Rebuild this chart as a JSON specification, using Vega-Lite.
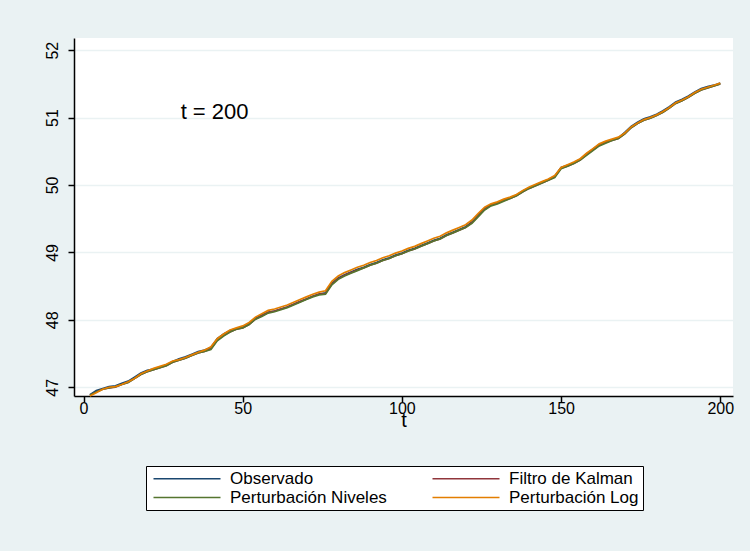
{
  "$schema": "https://vega.github.io/schema/vega-lite/v6.json",
  "width": 659,
  "height": 358,
  "autosize": {"type": "none"},
  "padding": {"left": 74, "top": 38, "right": 17, "bottom": 155},
  "background": "#EAF2F3",
  "config": {
    "view": {"fill": "white", "stroke": null},
    "font": "Liberation Sans"
  },
  "layer": [
    {
      "data": {
        "values": [
          {"t": 2, "o": 46.89, "k": 46.88, "n": 46.88, "l": 46.87},
          {"t": 4, "o": 46.95, "k": 46.93, "n": 46.93, "l": 46.92},
          {"t": 6, "o": 46.98, "k": 46.97, "n": 46.97, "l": 46.97},
          {"t": 8, "o": 47.01, "k": 46.99, "n": 46.99, "l": 47.00},
          {"t": 10, "o": 47.02, "k": 47.00, "n": 47.01, "l": 47.01},
          {"t": 12, "o": 47.06, "k": 47.04, "n": 47.04, "l": 47.04},
          {"t": 14, "o": 47.09, "k": 47.07, "n": 47.07, "l": 47.08},
          {"t": 16, "o": 47.15, "k": 47.13, "n": 47.13, "l": 47.13},
          {"t": 18, "o": 47.21, "k": 47.19, "n": 47.19, "l": 47.20},
          {"t": 20, "o": 47.25, "k": 47.23, "n": 47.23, "l": 47.24},
          {"t": 22, "o": 47.27, "k": 47.26, "n": 47.26, "l": 47.28},
          {"t": 24, "o": 47.30, "k": 47.29, "n": 47.29, "l": 47.31},
          {"t": 26, "o": 47.33, "k": 47.32, "n": 47.32, "l": 47.34},
          {"t": 28, "o": 47.38, "k": 47.37, "n": 47.37, "l": 47.39},
          {"t": 30, "o": 47.42, "k": 47.40, "n": 47.40, "l": 47.41},
          {"t": 32, "o": 47.45, "k": 47.43, "n": 47.43, "l": 47.44},
          {"t": 34, "o": 47.49, "k": 47.47, "n": 47.47, "l": 47.48},
          {"t": 36, "o": 47.53, "k": 47.51, "n": 47.51, "l": 47.52},
          {"t": 38, "o": 47.55, "k": 47.53, "n": 47.53, "l": 47.55},
          {"t": 40, "o": 47.59, "k": 47.57, "n": 47.56, "l": 47.60},
          {"t": 42, "o": 47.72, "k": 47.70, "n": 47.69, "l": 47.72},
          {"t": 44, "o": 47.79, "k": 47.77, "n": 47.76, "l": 47.79},
          {"t": 46, "o": 47.84, "k": 47.82, "n": 47.82, "l": 47.85},
          {"t": 48, "o": 47.87, "k": 47.86, "n": 47.86, "l": 47.88},
          {"t": 50, "o": 47.89, "k": 47.88, "n": 47.88, "l": 47.91},
          {"t": 52, "o": 47.94, "k": 47.93, "n": 47.93, "l": 47.96},
          {"t": 54, "o": 48.02, "k": 48.01, "n": 48.01, "l": 48.04},
          {"t": 56, "o": 48.07, "k": 48.06, "n": 48.05, "l": 48.09},
          {"t": 58, "o": 48.11, "k": 48.11, "n": 48.10, "l": 48.14},
          {"t": 60, "o": 48.13, "k": 48.13, "n": 48.12, "l": 48.16},
          {"t": 62, "o": 48.16, "k": 48.16, "n": 48.15, "l": 48.19},
          {"t": 64, "o": 48.19, "k": 48.19, "n": 48.18, "l": 48.22},
          {"t": 66, "o": 48.23, "k": 48.23, "n": 48.22, "l": 48.26},
          {"t": 68, "o": 48.27, "k": 48.27, "n": 48.26, "l": 48.30},
          {"t": 70, "o": 48.31, "k": 48.31, "n": 48.30, "l": 48.34},
          {"t": 72, "o": 48.35, "k": 48.35, "n": 48.34, "l": 48.38},
          {"t": 74, "o": 48.38, "k": 48.38, "n": 48.37, "l": 48.41},
          {"t": 76, "o": 48.40, "k": 48.39, "n": 48.38, "l": 48.43},
          {"t": 78, "o": 48.54, "k": 48.53, "n": 48.52, "l": 48.57},
          {"t": 80, "o": 48.62, "k": 48.61, "n": 48.60, "l": 48.65},
          {"t": 82, "o": 48.67, "k": 48.66, "n": 48.65, "l": 48.70},
          {"t": 84, "o": 48.71, "k": 48.70, "n": 48.69, "l": 48.74},
          {"t": 86, "o": 48.75, "k": 48.74, "n": 48.73, "l": 48.78},
          {"t": 88, "o": 48.78, "k": 48.77, "n": 48.77, "l": 48.81},
          {"t": 90, "o": 48.82, "k": 48.81, "n": 48.81, "l": 48.85},
          {"t": 92, "o": 48.85, "k": 48.84, "n": 48.84, "l": 48.88},
          {"t": 94, "o": 48.89, "k": 48.88, "n": 48.88, "l": 48.92},
          {"t": 96, "o": 48.92, "k": 48.91, "n": 48.91, "l": 48.95},
          {"t": 98, "o": 48.96, "k": 48.95, "n": 48.95, "l": 48.99},
          {"t": 100, "o": 48.99, "k": 48.98, "n": 48.98, "l": 49.02},
          {"t": 102, "o": 49.03, "k": 49.02, "n": 49.02, "l": 49.06},
          {"t": 104, "o": 49.06, "k": 49.05, "n": 49.05, "l": 49.09},
          {"t": 106, "o": 49.10, "k": 49.09, "n": 49.09, "l": 49.13},
          {"t": 108, "o": 49.14, "k": 49.13, "n": 49.13, "l": 49.17},
          {"t": 110, "o": 49.18, "k": 49.17, "n": 49.17, "l": 49.21},
          {"t": 112, "o": 49.21, "k": 49.20, "n": 49.20, "l": 49.24},
          {"t": 114, "o": 49.26, "k": 49.25, "n": 49.25, "l": 49.29},
          {"t": 116, "o": 49.30, "k": 49.29, "n": 49.29, "l": 49.33},
          {"t": 118, "o": 49.34, "k": 49.33, "n": 49.33, "l": 49.37},
          {"t": 120, "o": 49.38, "k": 49.37, "n": 49.37, "l": 49.41},
          {"t": 122, "o": 49.45, "k": 49.44, "n": 49.43, "l": 49.48},
          {"t": 124, "o": 49.55, "k": 49.54, "n": 49.53, "l": 49.58},
          {"t": 126, "o": 49.65, "k": 49.64, "n": 49.63, "l": 49.67},
          {"t": 128, "o": 49.71, "k": 49.70, "n": 49.69, "l": 49.72},
          {"t": 130, "o": 49.74, "k": 49.73, "n": 49.72, "l": 49.75},
          {"t": 132, "o": 49.78, "k": 49.77, "n": 49.76, "l": 49.79},
          {"t": 134, "o": 49.81, "k": 49.80, "n": 49.80, "l": 49.82},
          {"t": 136, "o": 49.85, "k": 49.84, "n": 49.84, "l": 49.86},
          {"t": 138, "o": 49.91, "k": 49.90, "n": 49.90, "l": 49.92},
          {"t": 140, "o": 49.96, "k": 49.95, "n": 49.95, "l": 49.97},
          {"t": 142, "o": 50.00, "k": 49.99, "n": 49.99, "l": 50.01},
          {"t": 144, "o": 50.04, "k": 50.03, "n": 50.03, "l": 50.05},
          {"t": 146, "o": 50.08, "k": 50.07, "n": 50.07, "l": 50.09},
          {"t": 148, "o": 50.13, "k": 50.12, "n": 50.11, "l": 50.14},
          {"t": 150, "o": 50.26, "k": 50.25, "n": 50.24, "l": 50.26},
          {"t": 152, "o": 50.29, "k": 50.28, "n": 50.28, "l": 50.30},
          {"t": 154, "o": 50.33, "k": 50.32, "n": 50.32, "l": 50.34},
          {"t": 156, "o": 50.38, "k": 50.37, "n": 50.37, "l": 50.39},
          {"t": 158, "o": 50.46, "k": 50.45, "n": 50.44, "l": 50.47},
          {"t": 160, "o": 50.53, "k": 50.52, "n": 50.51, "l": 50.54},
          {"t": 162, "o": 50.60, "k": 50.59, "n": 50.58, "l": 50.61},
          {"t": 164, "o": 50.64, "k": 50.63, "n": 50.62, "l": 50.65},
          {"t": 166, "o": 50.67, "k": 50.66, "n": 50.66, "l": 50.68},
          {"t": 168, "o": 50.70, "k": 50.69, "n": 50.69, "l": 50.71},
          {"t": 170, "o": 50.78, "k": 50.76, "n": 50.76, "l": 50.77},
          {"t": 172, "o": 50.87, "k": 50.85, "n": 50.85, "l": 50.86},
          {"t": 174, "o": 50.93, "k": 50.91, "n": 50.91, "l": 50.92},
          {"t": 176, "o": 50.98, "k": 50.96, "n": 50.96, "l": 50.97},
          {"t": 178, "o": 51.01, "k": 50.99, "n": 50.99, "l": 51.00},
          {"t": 180, "o": 51.05, "k": 51.03, "n": 51.03, "l": 51.04},
          {"t": 182, "o": 51.10, "k": 51.08, "n": 51.08, "l": 51.09},
          {"t": 184, "o": 51.16, "k": 51.14, "n": 51.14, "l": 51.15},
          {"t": 186, "o": 51.23, "k": 51.21, "n": 51.21, "l": 51.22},
          {"t": 188, "o": 51.27, "k": 51.25, "n": 51.25, "l": 51.26},
          {"t": 190, "o": 51.32, "k": 51.30, "n": 51.30, "l": 51.31},
          {"t": 192, "o": 51.38, "k": 51.36, "n": 51.36, "l": 51.37},
          {"t": 194, "o": 51.43, "k": 51.41, "n": 51.41, "l": 51.42},
          {"t": 196, "o": 51.46, "k": 51.44, "n": 51.44, "l": 51.45},
          {"t": 198, "o": 51.48, "k": 51.47, "n": 51.47, "l": 51.48},
          {"t": 200, "o": 51.51, "k": 51.50, "n": 51.50, "l": 51.51}
        ]
      },
      "transform": [{"fold": ["o", "k", "n", "l"], "as": ["serie", "valor"]}],
      "mark": {"type": "line", "strokeWidth": 1.7},
      "encoding": {
        "x": {
          "field": "t",
          "type": "quantitative",
          "scale": {"domain": [-3, 204], "nice": false, "zero": false},
          "axis": {
            "values": [0, 50, 100, 150, 200],
            "grid": false,
            "domainColor": "black",
            "domainWidth": 1.5,
            "tickColor": "black",
            "tickWidth": 1.5,
            "tickSize": 6,
            "labelFontSize": 16,
            "labelColor": "black",
            "labelPadding": -2,
            "title": "t",
            "titleFontSize": 20,
            "titleFontWeight": "normal",
            "titleColor": "black",
            "titlePadding": -6
          }
        },
        "y": {
          "field": "valor",
          "type": "quantitative",
          "scale": {"domain": [46.87, 52.18], "nice": false, "zero": false},
          "axis": {
            "values": [47, 48, 49, 50, 51, 52],
            "format": "d",
            "grid": true,
            "gridColor": "#EAF2F3",
            "gridWidth": 1.5,
            "domainColor": "black",
            "domainWidth": 1.5,
            "tickColor": "black",
            "tickWidth": 1.5,
            "tickSize": 6,
            "labelFontSize": 16,
            "labelColor": "black",
            "labelAngle": 270,
            "labelAlign": "center",
            "labelBaseline": "bottom",
            "labelPadding": 8,
            "title": null
          }
        },
        "color": {
          "field": "serie",
          "type": "nominal",
          "scale": {
            "domain": ["o", "n", "k", "l"],
            "range": ["#1a476f", "#55752f", "#90353b", "#e37e00"]
          },
          "legend": {
            "orient": "none",
            "legendX": 72,
            "legendY": 428,
            "direction": "vertical",
            "columns": 2,
            "title": null,
            "symbolType": "M-1,0H12.4",
            "symbolSize": 100,
            "symbolStrokeWidth": 1.5,
            "labelFontSize": 17,
            "labelColor": "black",
            "labelOffset": 63,
            "labelLimit": 300,
            "columnPadding": 42,
            "rowPadding": 1,
            "padding": 4,
            "fillColor": "white",
            "strokeColor": "black",
            "labelExpr": "{'o': 'Observado', 'k': 'Filtro de Kalman', 'n': 'Perturbación Niveles', 'l': 'Perturbación Log'}[datum.value]"
          }
        }
      }
    },
    {
      "data": {"values": [{"t": 30.5, "valor": 51.08, "label": "t = 200"}]},
      "mark": {"type": "text", "align": "left", "baseline": "middle", "fontSize": 22, "color": "black"},
      "encoding": {
        "x": {"field": "t", "type": "quantitative"},
        "y": {"field": "valor", "type": "quantitative"},
        "text": {"field": "label"}
      }
    }
  ]
}
